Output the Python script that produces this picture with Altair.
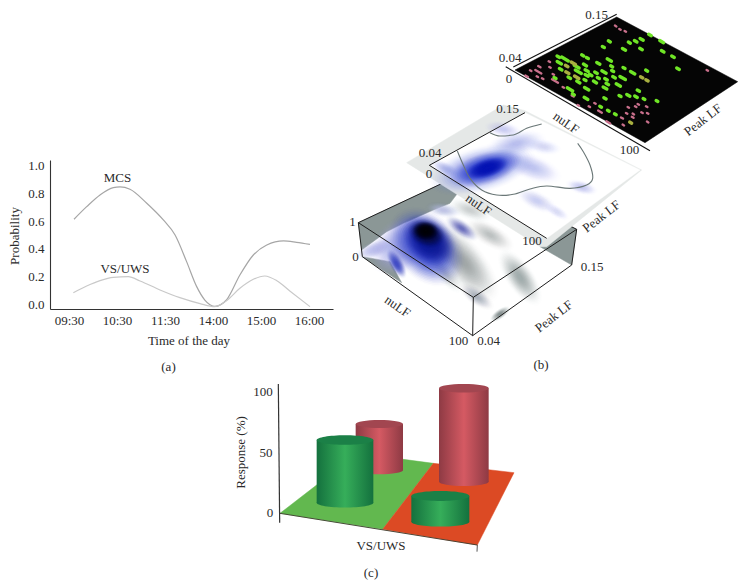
import altair as alt
import pandas as pd

W, H = 730, 574
FONT = "Liberation Serif"
INK = "#2a2a2a"

# ---------- panel (a) ----------
hours = ["09:30", "10:30", "11:30", "14:00", "15:00", "16:00"]
mcs_t = [.104,.368,.646,.924,1.063,1.27,1.62,1.965,2.21,2.45,2.66,2.83,3.04,3.28,3.56,3.84,4.12,4.47,4.74,5.02]
mcs_p = [.614,.705,.79,.843,.848,.831,.73,.609,.50,.307,.126,.029,-.017,.029,.21,.355,.428,.457,.447,.432]
vs_t = [.09,.368,.646,.924,1.236,1.48,1.896,2.31,2.73,3.04,3.28,3.56,3.84,4.08,4.33,4.6,5.02]
vs_p = [.082,.130,.169,.193,.198,.167,.102,.046,.003,-.019,.024,.114,.179,.203,.169,.095,-.019]

# ---------- panel (b): outlines, read in zoom-crop pixels ----------
floor_wall_a = [(85,98),(390,-45),(390,0),(360,40),(310,60),(220,100),(170,125),(95,180)]
floor_wall_b = [(630,170),(720,108),(740,118),(725,225)]
floor_wall_c = [(97,200),(180,215),(215,278)]
box_floor = [(97,200),(180,100),(300,30),(740,118),(725,225),(428,437)]
box_edges = [
    [(85,98),(430,322)], [(430,322),(740,118)], [(430,322),(428,437)], [(428,437),(97,200)],
    [(428,437),(725,225)], [(725,225),(740,118)], [(85,98),(97,200)], [(85,98),(390,-45)],
    [(720,108),(740,118)],
]
sheet_grey = [(20,218),(310,45),(375,62),(725,240),(440,470),(420,470)]
sheet_white = [(88,226),(375,68),(720,240),(440,445)]
sheet_edges = [[(88,226),(375,68)], [(88,226),(440,445)]]
contour_a = [(270,128),(300,138),(340,135),(380,115),(425,102)]
contour_b = [(172,183),(190,225),(210,265),(245,300),(290,315),(340,313),(390,297),(440,288),(510,295),(560,285),(578,265),(570,225),(550,185),(533,160)]
plate_black = [(515,70),(616.7,17),(737.7,81.7),(645,142.7)]
plate_lines = [[(513.3,67),(616.7,14.3)], [(505.7,66.7),(650,150.7)]]

# blobs: zoom x, zoom y, zoom half-length, angle, colour, peak opacity, shape (flat / round)
sheet_blobs = [
    (350,160,95,-10,"#aab1ee",.75,"flat"), (310,118,60,10,"#b9bef0",.7,"flat"),
    (430,170,60,10,"#c8ccf4",.7,"flat"), (395,232,95,20,"#b4baf0",.8,"flat"),
    (545,292,50,15,"#b9bef0",.8,"flat"), (410,332,70,25,"#c3c7f2",.8,"flat"),
    (470,365,45,30,"#d5d8f6",.8,"flat"), (135,235,50,25,"#b5bbee",.8,"flat"),
    (245,238,165,-15,"#6c78e2",.92,"flat"), (258,235,115,-18,"#2436d2",.95,"flat"),
    (262,234,68,-18,"#0614b4",.98,"flat"),
]
box_blobs = [
    (135,178,62,-20,"#bcc1ee",.95,"flat"), (215,165,110,-40,"#a4aaea",.95,"round"),
    (395,115,60,35,"#4a52b0",.8,"flat"), (340,60,55,10,"#b8bce4",.85,"flat"),
    (480,135,85,30,"#a6adad",.7,"flat"), (420,60,75,20,"#bcc2c2",.7,"flat"),
    (400,215,150,50,"#959e9e",.85,"flat"), (570,262,100,55,"#98a2a2",.85,"flat"),
    (440,320,62,35,"#9aa3b2",.8,"flat"), (510,372,36,-35,"#7b8888",.9,"flat"),
    (350,255,70,50,"#bcc2c2",.7,"flat"), (200,222,50,60,"#3c48c4",.95,"flat"),
    (290,170,135,48,"#2436c8",.97,"round"), (298,150,92,42,"#0c1892",.98,"round"),
    (290,130,58,20,"#0a0d38",.985,"round"), (287,122,40,5,"#030308",.985,"round"),
]

# dashes of the top plate: zoom x, zoom y, zoom length
green_x = [418,400,478,497,515,462,513,578,609,624,540,575,338,352,265,285,268,320,345,385,418,425,272,325,350,428,378,402,462,488,530,298,350,362,255,325,345,375,408,385,412,432,458,445,405,300,350,348,310,405,450,475,498,505,522,561,392,415,436]
green_y = [124,141,128,124,118,148,147,154,170,206,105,125,166,174,170,177,188,200,195,190,180,199,208,215,212,213,218,216,204,218,212,233,226,225,234,246,240,246,238,234,252,232,234,255,264,268,266,295,283,295,288,286,290,272,297,303,320,332,343]
green_l = [6,6,6,8,10,10,8,8,8,8,8,12,6,6,8,22,14,16,10,10,14,6,8,20,10,6,8,14,6,14,6,8,10,8,6,10,6,10,8,6,8,8,18,14,12,18,14,12,6,7,6,10,8,7,5,5,5,5,5]
olive_x = [310,290,292,320,515,531,482]
olive_y = [190,198,218,232,232,241,368]
olive_l = [14,8,10,14,7,7,6]
pink_x = [437,450,466,712,238,182,208,205,240,202,218,250,255,170,280,308,375,358,390,325,415,456,470,490,497,475,530,505,533,516,533,460,488]
pink_y = [78,88,94,211,185,212,200,215,202,230,236,223,243,229,262,288,310,320,335,316,367,354,340,342,320,322,320,313,340,338,366,375,352]
pink_l = [4,4,4,4,4,4,7,20,4,4,4,4,20,8,4,6,4,4,12,4,12,6,4,4,4,4,4,4,4,4,4,4,5]

# ---------- panel (c) ----------
floor_green = [(180,430),(488,478),(640,280),(413,250)]
floor_red = [(488,478),(772,525),(882,308),(640,280)]
floor_line = [(180,430),(772,525)]
axis_line = [(175,42),(179,458)]
end_tick = [(772,525),(771,545)]
# left, right, top-centre y, bottom-centre y (zoom pixels)
cyl_red = [(407,549,162,301),(657,806,55,335)]
cyl_green = [(290,460,210,398),(574,748,378,455)]

# (text, image x, image y, angle)
labels = [
    ("MCS",117.5,177.5,0),("VS/UWS",125,268.5,0),("Probability",15,236,270),
    ("Time of the day",189,340.5,0),("(a)",168.5,366.5,0),
    ("0.15",596.5,14.5,0),("0.04",510,57.5,0),("0",509,79,0),("nuLF",566,123,35),
    ("100",629.5,150,0),("Peak LF",703,120,-38),
    ("0.15",507.5,108.5,0),("0.04",430,152.5,0),("0",429,173.5,0),("nuLF",478.5,205,35),
    ("100",532,240.5,0),("Peak LF",601.5,216.5,-38),
    ("1",352.5,221.5,0),("0",355.5,256.5,0),("nuLF",397.5,306.5,35),("100",458.5,340.5,0),
    ("0.04",488.5,340.5,0),("Peak LF",554,316.5,-38),("0.15",592,267,0),("(b)",541,365,0),
    ("100",263,392,0),("50",266,453,0),("0",270,513,0),("Response (%)",240.5,452.5,270),
    ("VS/UWS",381,546,0),("(c)",371,573,0),
]

# ---------- helpers ----------
px_x = alt.Scale(domain=[8, 8 + W], range=[0, W])
px_y = alt.Scale(domain=[8 + H, 8], range=[H, 0])
X = lambda f="x": alt.X(f, type="quantitative", scale=px_x, axis=None)
Y = lambda f="y": alt.Y(f, type="quantitative", scale=px_y, axis=None)

def crop(ox, oy):
    return lambda pts: [(ox + a / 3, oy + b / 3) for a, b in pts]
z3, z4, z5 = crop(400, 90), crop(330, 190), crop(220, 370)

def frame(pts):
    return pd.DataFrame({"x": [p[0] for p in pts], "y": [p[1] for p in pts], "i": range(len(pts))})

def poly(pts, fill):
    return alt.Chart(frame(list(pts) + [pts[0]])).mark_line(fill=fill, stroke=fill, strokeWidth=0.5).encode(
        x=X(), y=Y(), order=alt.Order("i:Q"))

def line(pts, color=INK, width=1.0, interp="linear"):
    return alt.Chart(frame(pts)).mark_line(color=color, strokeWidth=width, interpolate=interp, clip=False).encode(
        x=X(), y=Y(), order=alt.Order("i:Q"))

SHAPES = {"flat": "M-1,0A1,0.42 0 1 1 1,0A1,0.42 0 1 1 -1,0Z",
          "round": "M-1,0A1,0.72 0 1 1 1,0A1,0.72 0 1 1 -1,0Z"}

def blobs(rows, conv, rings=22):
    out = []
    total = rings * (rings + 1) / 2
    for a, b, r, ang, col, peak, sh in rows:
        (cx, cy), = conv([(a, b)])
        for k in range(rings):
            f = 1 - k / rings * 0.92
            rad = r / 3 * f
            w = (k + 1) / total
            out.append({"x": cx, "y": cy, "s": (2 * rad) ** 2, "a": ang % 360,
                        "c": col, "o": 1 - (1 - peak) ** w, "sh": SHAPES[sh]})
    return alt.Chart(pd.DataFrame(out)).mark_point(filled=True, strokeWidth=0).encode(
        x=X(), y=Y(),
        size=alt.Size("s:Q", scale=None),
        angle=alt.Angle("a:Q", scale=None),
        color=alt.Color("c:N", scale=None),
        opacity=alt.Opacity("o:Q", scale=None),
        shape=alt.Shape("sh:N", scale=None))

def dashes(xs, ys, ls, color, width=3.4, extra=1):
    df = pd.DataFrame({"zx": xs, "zy": ys, "zl": ls})
    df["zl"] = df.zl + extra
    df["x"] = 470 + (df.zx - df.zl * .43) / 3
    df["y"] = (df.zy - df.zl * .25) / 3
    df["x2"] = 470 + (df.zx + df.zl * .43) / 3
    df["y2"] = (df.zy + df.zl * .25) / 3
    return alt.Chart(df).mark_rule(color=color, strokeWidth=width, strokeCap="round").encode(
        x=X(), y=Y(), x2="x2:Q", y2="y2:Q")

def grad(edge, mid):
    return alt.Gradient(gradient="linear", x1=0, x2=1, y1=0, y2=0, stops=[
        alt.GradientStop(color=edge, offset=0), alt.GradientStop(color=mid, offset=0.5),
        alt.GradientStop(color=edge, offset=1)])

ELL = "M-1,0A1,0.17 0 1 1 1,0A1,0.17 0 1 1 -1,0Z"

def cylinder(c, edge, mid, top):
    l, r, t, b = c
    (xl, yt), (xr, yb) = z5([(l, t), (r, b)])
    df = pd.DataFrame({"x": [xl], "x2": [xr], "y": [yt], "y2": [yb],
                       "cx": [(xl + xr) / 2], "s": [(xr - xl) ** 2]})
    g = grad(edge, mid)
    base = alt.Chart(df)
    body = base.mark_rect(color=g).encode(x=X(), x2="x2:Q", y=Y(), y2="y2:Q")
    low = base.mark_point(shape=ELL, filled=True, color=g, opacity=1, strokeWidth=0).encode(
        x=X("cx"), y=Y("y2"), size=alt.Size("s:Q", scale=None))
    cap = base.mark_point(shape=ELL, filled=True, color=top, opacity=1, strokeWidth=0).encode(
        x=X("cx"), y=Y("y"), size=alt.Size("s:Q", scale=None))
    return [low, body, cap]

# ---------- pixel-space layers (panels b, c and all free text) ----------
pix = []
# bottom box
pix += [poly(z4(box_floor), "#ffffff")]
pix += [poly(z4(floor_wall_a), "#8b9796"), poly(z4(floor_wall_b), "#8b9796"), poly(z4(floor_wall_c), "#8b9796")]
pix += [blobs(box_blobs, z4)]
pix += [line(z4(e), "#1c1c1c", 1.0) for e in box_edges]
# middle sheet
pix += [poly(z3(sheet_grey), "#e5e8e7"), poly(z3(sheet_white), "#ffffff")]
pix += [blobs(sheet_blobs, z3)]
pix += [line(z3(contour_a), "#6a7777", 1.1, "monotone"), line(z3(contour_b), "#6a7777", 1.1, "cardinal")]
pix += [line(z3(e), "#1c1c1c", 1.0) for e in sheet_edges]
# top plate
pix += [poly(plate_black, "#050505")]
pix += [line(e, "#111111", 1.1) for e in plate_lines]
pix += [dashes(pink_x, pink_y, pink_l, "#c9708c", 2.4, 1), dashes(green_x, green_y, green_l, "#70e626"),
        dashes(olive_x, olive_y, olive_l, "#a8b040")]
# panel (c)
pix += [poly(z5(floor_green), "#62b84f"), poly(z5(floor_red), "#dc4a24")]
pix += [line(z5(floor_line), "#3a3a2a", 0.9), line(z5(axis_line), "#333333", 1.2), line(z5(end_tick), "#555555", 1.0)]
pix += cylinder(cyl_red[0], "#8e3a44", "#d55a63", "#a24650")
pix += cylinder(cyl_red[1], "#8e3a44", "#d55a63", "#a24650")
pix += cylinder(cyl_green[0], "#14713e", "#36ae5a", "#1b8047")
pix += cylinder(cyl_green[1], "#14713e", "#36ae5a", "#1b8047")
# text
for t, x, y, a in labels:
    pix.append(alt.Chart(pd.DataFrame({"x": [x], "y": [y], "t": [t]})).mark_text(
        font=FONT, fontSize=13, color=INK, angle=a % 360, align="center", baseline="middle").encode(
        x=X(), y=Y(), text="t:N"))

# ---------- panel (a) with its own scales and real axes ----------
a_x = alt.Scale(domain=[-0.396, 5.5], range=[42, 325], zero=False, nice=False)
a_y = alt.Scale(domain=[-0.036, 1.043], range=[301, 152], zero=False, nice=False)
lab = "{0:'09:30',1:'10:30',2:'11:30',3:'14:00',4:'15:00',5:'16:00'}[datum.value]"
x_axis = alt.Axis(orient="bottom", offset=301 - H, values=list(range(len(hours))), labelExpr=lab, title=None,
                  grid=False, ticks=False, domainColor="#333333", domainWidth=1.1, labelFont=FONT,
                  labelFontSize=13, labelColor=INK, labelPadding=5, labelFlush=False, labelOverlap=False)
y_axis = alt.Axis(orient="left", offset=-42, values=[0, .2, .4, .6, .8, 1.0], format=".1f", title=None,
                  grid=False, ticks=False, domainColor="#333333", domainWidth=1.1, labelFont=FONT,
                  labelFontSize=13, labelColor=INK, labelPadding=6, labelOverlap=False)
mcs = alt.Chart(pd.DataFrame({"t": mcs_t, "p": mcs_p})).mark_line(
    color="#a6a6a6", strokeWidth=1.2, interpolate="monotone").encode(
    x=alt.X("t:Q", scale=a_x, axis=x_axis), y=alt.Y("p:Q", scale=a_y, axis=y_axis))
vs = alt.Chart(pd.DataFrame({"t": vs_t, "p": vs_p})).mark_line(
    color="#c9c9c9", strokeWidth=1.2, interpolate="monotone").encode(
    x=alt.X("t:Q", scale=a_x, axis=x_axis), y=alt.Y("p:Q", scale=a_y, axis=y_axis))
panel_a = alt.layer(mcs, vs)

chart = alt.layer(alt.layer(*pix), panel_a).resolve_scale(x="independent", y="independent").properties(
    width=W, height=H, padding=0, autosize=alt.AutoSizeParams(type="none"), background="white"
).configure_view(stroke=None)

chart.save("out.html", embed_options={"renderer": "svg", "actions": False})
